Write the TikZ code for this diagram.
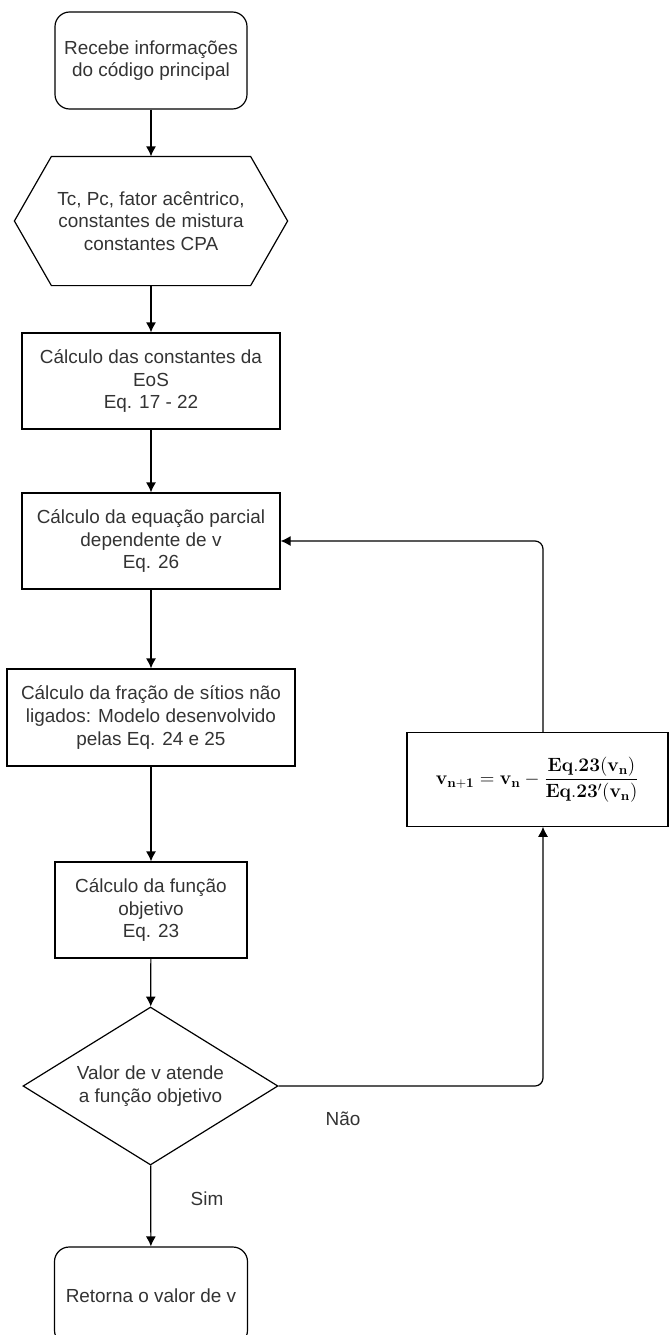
\documentclass[tikz,border=0pt]{standalone}
\usepackage{amsmath}
\usepackage[no-math]{fontspec}
\setmainfont{Liberation Sans}
\usepackage{xcolor}
\usetikzlibrary{arrows.meta,calc,shapes.geometric}
\definecolor{textgray}{HTML}{333333}
\tikzset{>={Latex[length=7.5pt,width=7.5pt]}}
\tikzset{
	base/.style={line width=0.9pt, text=textgray, align=center, inner sep=2pt,
			font=\fontsize{14.2}{16.9}\selectfont},
	terminal/.style 2 args={base, draw, rounded corners=11pt, minimum width=#1, minimum height=#2},
	process/.style 2 args={base, draw, minimum width=#1, minimum height=#2},
	hexa/.style 2 args={base, minimum width=#1, minimum height=#2},
	decision/.style={base, draw, diamond, aspect=1.6, inner sep=0pt,
			minimum width=191.25pt, minimum height=118.5pt},
	label/.style={text=textgray, font=\fontsize{14.2}{16.9}\selectfont},
	line/.style={line width=0.9pt, ->}
}

\begin{document}
\begin{tikzpicture}[x=0.75pt, y=-0.75pt]
	\useasboundingbox (0,0) rectangle (668,1335);

	\node[terminal={144pt}{72.75pt}] (inicio) at (151,60.5) {Recebe informações\\do código principal};
	\node[hexa={204pt}{96pt}] (dados) at (151,221) {Tc, Pc, fator acêntrico,\\constantes de mistura\\constantes CPA};
	\draw[line width=0.9pt] (dados.west) -- ($(dados.north west)+(37,0)$) -- ($(dados.north east)+(-37,0)$)
		-- (dados.east) -- ($(dados.south east)+(-37,0)$) -- ($(dados.south west)+(37,0)$) -- cycle;
	\node[process={193.5pt}{72pt}] (eos) at (151,381) {Cálculo das constantes da\\EoS\\Eq. 17 - 22};
	\node[process={193.5pt}{72pt}] (parcial) at (151,541) {Cálculo da equação parcial\\dependente de v\\Eq. 26};
	\node[process={216pt}{72.75pt}] (fracao) at (151,717.5) {Cálculo da fração de sítios não\\ligados: Modelo desenvolvido\\pelas Eq. 24 e 25};
	\node[process={144pt}{72pt}] (objetivo) at (151,910) {Cálculo da função\\objetivo\\Eq. 23};
	\node[decision] (teste) at (150.5,1086) {Valor de v atende\\a função objetivo};
	\node[terminal={144.75pt}{73.5pt}] (retorna) at (151,1296) {Retorna o valor de v};
	\node[process={195.75pt}{70pt}, text=black] (newton) at (537.5,779.5)
		{\fontsize{14.4}{17}\selectfont$\mathbf{v_{n+1}} = \mathbf{v_n} - \dfrac{\mathbf{Eq.23(v_n)}}{\mathbf{Eq.23'(v_n)}}$};

	% laço de Newton
	\coordinate (cantoA) at (543,1086);
	\coordinate (cantoB) at (543,541);

	\draw[line] (inicio) -- (dados);
	\draw[line] (dados) -- (eos);
	\draw[line] (eos) -- (parcial);
	\draw[line] (parcial) -- (fracao);
	\draw[line] (fracao) -- (objetivo);
	\draw[line] (objetivo) -- (teste);
	\draw[line] (teste) -- (retorna);
	\draw[line, rounded corners=6pt] (teste.east) -- (cantoA) -- (newton.south -| cantoA);
	\draw[line, rounded corners=6pt] (newton.north -| cantoB) -- (cantoB) -- (parcial.east);

	\node[label] (nao) at (343,1119) {Não};
	\node[label] (sim) at (207,1199) {Sim};

\end{tikzpicture}
\end{document}
